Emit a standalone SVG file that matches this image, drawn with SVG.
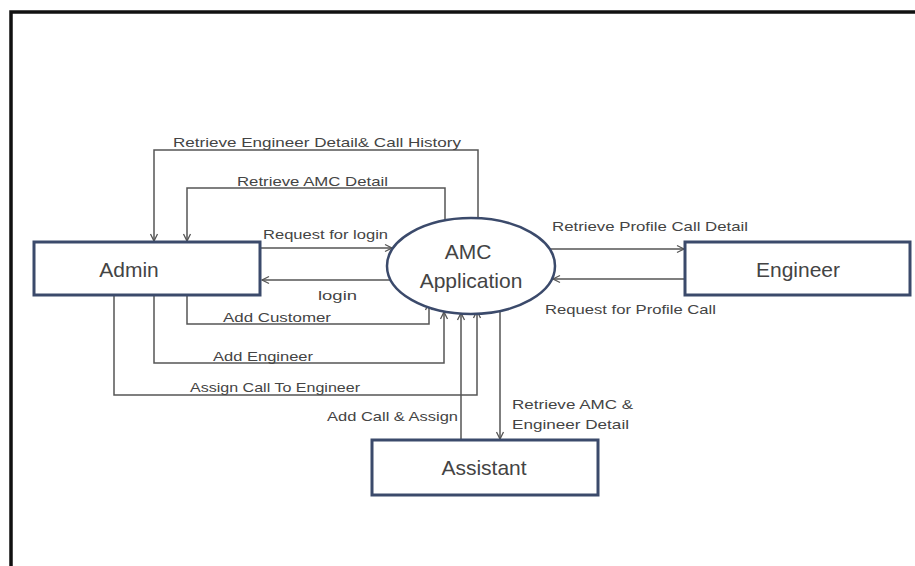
<svg xmlns="http://www.w3.org/2000/svg" width="915" height="566" viewBox="0 0 915 566">
<defs>
<marker id="arr" markerWidth="10" markerHeight="10" refX="8" refY="5" orient="auto" markerUnits="userSpaceOnUse">
<path d="M1,1.5 L8,5 L1,8.5" fill="none" stroke="#555" stroke-width="1.3"/>
</marker>
<style>
.frame{fill:none;stroke:#111;stroke-width:3.5}
.box{fill:#fff;stroke:#3b4a6b;stroke-width:3}
.ell{fill:#fff;stroke:#3b4a6b;stroke-width:2.5}
.conn{fill:none;stroke:#555;stroke-width:1.5}
.arrow{marker-end:url(#arr)}
.nt{font-family:"Liberation Sans",Arial,sans-serif;font-size:21px;fill:#444;text-anchor:middle}
.lt{font-family:"Liberation Sans",Arial,sans-serif;font-size:13.5px;fill:#444}
</style>
</defs>
<rect width="915" height="566" fill="#fff"/>
<rect class="frame" x="11" y="12" width="920" height="570"/>

<g id="connectors">
<path class="conn arrow" d="M478,221 V150 H154 V241"/>
<path class="conn arrow" d="M445,221 V188 H187 V241"/>
<path class="conn arrow" d="M261,248 H392"/>
<path class="conn arrow" d="M390,280 H262"/>
<path class="conn arrow" d="M187,296 V324 H429 V303"/>
<path class="conn arrow" d="M154,296 V363 H444 V312"/>
<path class="conn arrow" d="M114,296 V395 H477 V311"/>
<path class="conn arrow" d="M461,439 V313"/>
<path class="conn arrow" d="M500,312 V439"/>
<path class="conn arrow" d="M550,249 H684"/>
<path class="conn arrow" d="M684,279 H553"/>
</g>

<g id="labels">
<text class="lt" x="173" y="147" textLength="288" lengthAdjust="spacingAndGlyphs">Retrieve Engineer Detail&amp; Call History</text>
<text class="lt" x="237" y="186" textLength="151" lengthAdjust="spacingAndGlyphs">Retrieve AMC Detail</text>
<text class="lt" x="263" y="239" textLength="125" lengthAdjust="spacingAndGlyphs">Request for login</text>
<text class="lt" x="318" y="300" textLength="39" lengthAdjust="spacingAndGlyphs">login</text>
<text class="lt" x="223" y="322" textLength="108" lengthAdjust="spacingAndGlyphs">Add Customer</text>
<text class="lt" x="213" y="361" textLength="100" lengthAdjust="spacingAndGlyphs">Add Engineer</text>
<text class="lt" x="190" y="392" textLength="170" lengthAdjust="spacingAndGlyphs">Assign Call To Engineer</text>
<text class="lt" x="327" y="421" textLength="131" lengthAdjust="spacingAndGlyphs">Add Call &amp; Assign</text>
<text class="lt" x="512" y="409" textLength="121" lengthAdjust="spacingAndGlyphs">Retrieve AMC &amp;</text>
<text class="lt" x="512" y="429" textLength="117" lengthAdjust="spacingAndGlyphs">Engineer Detail</text>
<text class="lt" x="552" y="231" textLength="196" lengthAdjust="spacingAndGlyphs">Retrieve Profile Call Detail</text>
<text class="lt" x="545" y="314" textLength="171" lengthAdjust="spacingAndGlyphs">Request for Profile Call</text>
</g>

<g id="admin">
<rect class="box" x="34" y="242" width="226" height="53"/>
<text class="nt" x="129" y="277">Admin</text>
</g>
<g id="amc-application">
<ellipse class="ell" cx="471" cy="266" rx="84" ry="48"/>
<text class="nt" x="468" y="259">AMC</text>
<text class="nt" x="471" y="288">Application</text>
</g>
<g id="engineer">
<rect class="box" x="685" y="242" width="225" height="53"/>
<text class="nt" x="798" y="277">Engineer</text>
</g>
<g id="assistant">
<rect class="box" x="372" y="440" width="226" height="55"/>
<text class="nt" x="484" y="475">Assistant</text>
</g>
</svg>
